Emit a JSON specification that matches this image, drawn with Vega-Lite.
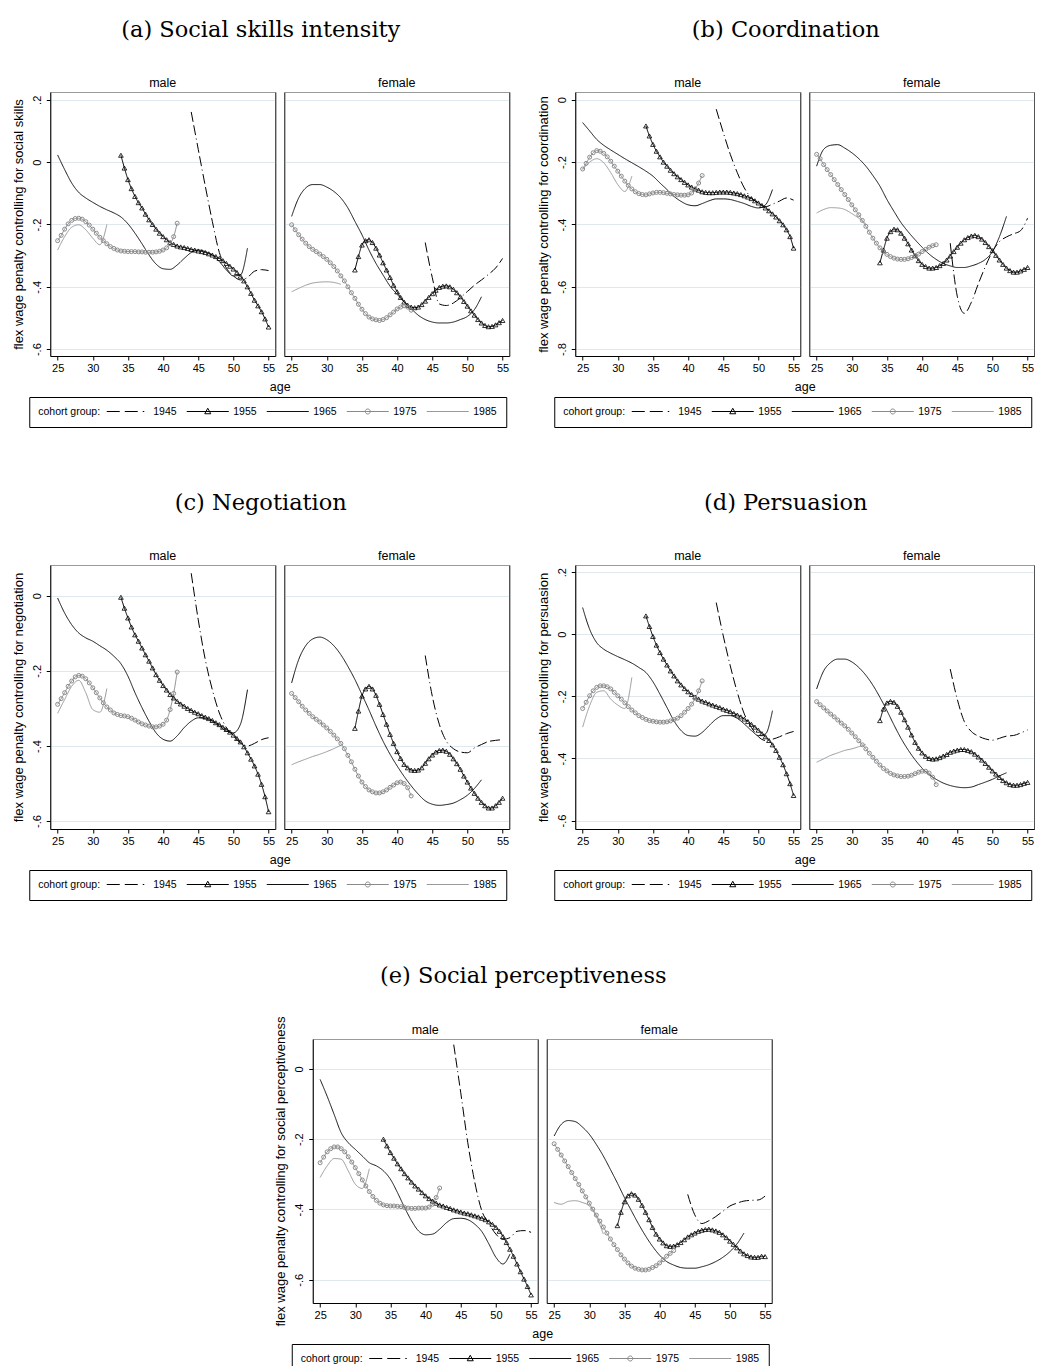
{
"$schema":"https://vega.github.io/schema/vega-lite/v6.json",
"background":"white",
"padding":{"left":11,"top":18,"right":0,"bottom":0},
"config":{
 "font":"Liberation Sans",
 "view":{"stroke":"#9a9a9a"},
 "axis":{"labelFont":"Liberation Sans","labelFontSize":11,"labelColor":"black","titleFont":"Liberation Sans","titleFontSize":13,"titleFontWeight":"normal","titleColor":"black","domainColor":"black","tickColor":"black","tickSize":4,"gridColor":"#dfe8ec","gridWidth":1,"labelPadding":2,"titlePadding":6},
 "legend":{"titleFont":"Liberation Sans","titleFontSize":10.5,"titleFontWeight":"normal","titleColor":"black","labelFont":"Liberation Sans","labelFontSize":10.5,"labelColor":"black","strokeColor":"black","fillColor":"white","padding":9,"cornerRadius":0,"direction":"horizontal","titleOrient":"left","titlePadding":6,"columnPadding":7,"symbolSize":100,"symbolStrokeWidth":1,"labelOffset":36}
},
"datasets":{
"am":[{"c":45,"x":44,"y":0.161},{"c":45,"x":45,"y":0.041},{"c":45,"x":46,"y":-0.077},{"c":45,"x":47,"y":-0.19},{"c":45,"x":48,"y":-0.29},{"c":45,"x":49,"y":-0.34},{"c":45,"x":50,"y":-0.365},{"c":45,"x":51,"y":-0.378},{"c":45,"x":52,"y":-0.37},{"c":45,"x":53,"y":-0.35},{"c":45,"x":54,"y":-0.345},{"c":45,"x":55,"y":-0.348},
{"c":55,"x":34,"y":0.022},{"c":55,"x":34.5,"y":-0.019},{"c":55,"x":35,"y":-0.056},{"c":55,"x":35.5,"y":-0.085},{"c":55,"x":36,"y":-0.11},{"c":55,"x":36.5,"y":-0.13},{"c":55,"x":37,"y":-0.147},{"c":55,"x":37.5,"y":-0.167},{"c":55,"x":38,"y":-0.185},{"c":55,"x":38.5,"y":-0.2},{"c":55,"x":39,"y":-0.215},{"c":55,"x":39.5,"y":-0.228},{"c":55,"x":40,"y":-0.239},{"c":55,"x":40.5,"y":-0.249},{"c":55,"x":41,"y":-0.258},{"c":55,"x":41.5,"y":-0.264},{"c":55,"x":42,"y":-0.269},{"c":55,"x":42.5,"y":-0.272},{"c":55,"x":43,"y":-0.274},{"c":55,"x":43.5,"y":-0.277},{"c":55,"x":44,"y":-0.28},{"c":55,"x":44.5,"y":-0.282},{"c":55,"x":45,"y":-0.285},{"c":55,"x":45.5,"y":-0.287},{"c":55,"x":46,"y":-0.29},{"c":55,"x":46.5,"y":-0.294},{"c":55,"x":47,"y":-0.298},{"c":55,"x":47.5,"y":-0.303},{"c":55,"x":48,"y":-0.309},{"c":55,"x":48.5,"y":-0.316},{"c":55,"x":49,"y":-0.325},{"c":55,"x":49.5,"y":-0.334},{"c":55,"x":50,"y":-0.343},{"c":55,"x":50.5,"y":-0.354},{"c":55,"x":51,"y":-0.366},{"c":55,"x":51.5,"y":-0.381},{"c":55,"x":52,"y":-0.4},{"c":55,"x":52.5,"y":-0.421},{"c":55,"x":53,"y":-0.443},{"c":55,"x":53.5,"y":-0.461},{"c":55,"x":54,"y":-0.48},{"c":55,"x":54.5,"y":-0.503},{"c":55,"x":55,"y":-0.529},
{"c":65,"x":25,"y":0.023},{"c":65,"x":26,"y":-0.024},{"c":65,"x":27,"y":-0.067},{"c":65,"x":28,"y":-0.097},{"c":65,"x":29,"y":-0.115},{"c":65,"x":30,"y":-0.129},{"c":65,"x":31,"y":-0.142},{"c":65,"x":32,"y":-0.153},{"c":65,"x":33,"y":-0.163},{"c":65,"x":34,"y":-0.176},{"c":65,"x":35,"y":-0.198},{"c":65,"x":36,"y":-0.228},{"c":65,"x":37,"y":-0.262},{"c":65,"x":38,"y":-0.298},{"c":65,"x":39,"y":-0.327},{"c":65,"x":40,"y":-0.342},{"c":65,"x":41,"y":-0.344},{"c":65,"x":42,"y":-0.33},{"c":65,"x":43,"y":-0.309},{"c":65,"x":44,"y":-0.29},{"c":65,"x":45,"y":-0.282},{"c":65,"x":46,"y":-0.287},{"c":65,"x":47,"y":-0.298},{"c":65,"x":48,"y":-0.319},{"c":65,"x":49,"y":-0.346},{"c":65,"x":50,"y":-0.365},{"c":65,"x":51,"y":-0.362},{"c":65,"x":52,"y":-0.276},
{"c":75,"x":25,"y":-0.252},{"c":75,"x":25.5,"y":-0.235},{"c":75,"x":26,"y":-0.215},{"c":75,"x":26.5,"y":-0.198},{"c":75,"x":27,"y":-0.187},{"c":75,"x":27.5,"y":-0.181},{"c":75,"x":28,"y":-0.18},{"c":75,"x":28.5,"y":-0.183},{"c":75,"x":29,"y":-0.191},{"c":75,"x":29.5,"y":-0.202},{"c":75,"x":30,"y":-0.215},{"c":75,"x":30.5,"y":-0.228},{"c":75,"x":31,"y":-0.241},{"c":75,"x":31.5,"y":-0.252},{"c":75,"x":32,"y":-0.262},{"c":75,"x":32.5,"y":-0.271},{"c":75,"x":33,"y":-0.277},{"c":75,"x":33.5,"y":-0.282},{"c":75,"x":34,"y":-0.285},{"c":75,"x":34.5,"y":-0.286},{"c":75,"x":35,"y":-0.287},{"c":75,"x":35.5,"y":-0.287},{"c":75,"x":36,"y":-0.287},{"c":75,"x":36.5,"y":-0.288},{"c":75,"x":37,"y":-0.288},{"c":75,"x":37.5,"y":-0.289},{"c":75,"x":38,"y":-0.289},{"c":75,"x":38.5,"y":-0.289},{"c":75,"x":39,"y":-0.288},{"c":75,"x":39.5,"y":-0.286},{"c":75,"x":40,"y":-0.282},{"c":75,"x":40.5,"y":-0.275},{"c":75,"x":41,"y":-0.262},{"c":75,"x":41.5,"y":-0.239},{"c":75,"x":42,"y":-0.196},
{"c":85,"x":25,"y":-0.282},{"c":85,"x":26,"y":-0.239},{"c":85,"x":27,"y":-0.209},{"c":85,"x":28,"y":-0.201},{"c":85,"x":29,"y":-0.217},{"c":85,"x":30,"y":-0.244},{"c":85,"x":31,"y":-0.265},{"c":85,"x":32,"y":-0.2}],
"af":[{"c":45,"x":44,"y":-0.258},{"c":45,"x":45,"y":-0.37},{"c":45,"x":46,"y":-0.455},{"c":45,"x":47,"y":-0.46},{"c":45,"x":48,"y":-0.452},{"c":45,"x":49,"y":-0.435},{"c":45,"x":50,"y":-0.415},{"c":45,"x":51,"y":-0.395},{"c":45,"x":52,"y":-0.378},{"c":45,"x":53,"y":-0.36},{"c":45,"x":54,"y":-0.34},{"c":45,"x":55,"y":-0.309},
{"c":55,"x":34,"y":-0.346},{"c":55,"x":34.5,"y":-0.303},{"c":55,"x":35,"y":-0.266},{"c":55,"x":35.5,"y":-0.252},{"c":55,"x":36,"y":-0.249},{"c":55,"x":36.5,"y":-0.258},{"c":55,"x":37,"y":-0.276},{"c":55,"x":37.5,"y":-0.298},{"c":55,"x":38,"y":-0.323},{"c":55,"x":38.5,"y":-0.346},{"c":55,"x":39,"y":-0.37},{"c":55,"x":39.5,"y":-0.395},{"c":55,"x":40,"y":-0.416},{"c":55,"x":40.5,"y":-0.434},{"c":55,"x":41,"y":-0.449},{"c":55,"x":41.5,"y":-0.459},{"c":55,"x":42,"y":-0.465},{"c":55,"x":42.5,"y":-0.467},{"c":55,"x":43,"y":-0.465},{"c":55,"x":43.5,"y":-0.457},{"c":55,"x":44,"y":-0.446},{"c":55,"x":44.5,"y":-0.434},{"c":55,"x":45,"y":-0.422},{"c":55,"x":45.5,"y":-0.411},{"c":55,"x":46,"y":-0.402},{"c":55,"x":46.5,"y":-0.398},{"c":55,"x":47,"y":-0.397},{"c":55,"x":47.5,"y":-0.4},{"c":55,"x":48,"y":-0.408},{"c":55,"x":48.5,"y":-0.419},{"c":55,"x":49,"y":-0.432},{"c":55,"x":49.5,"y":-0.447},{"c":55,"x":50,"y":-0.462},{"c":55,"x":50.5,"y":-0.477},{"c":55,"x":51,"y":-0.491},{"c":55,"x":51.5,"y":-0.505},{"c":55,"x":52,"y":-0.516},{"c":55,"x":52.5,"y":-0.524},{"c":55,"x":53,"y":-0.528},{"c":55,"x":53.5,"y":-0.527},{"c":55,"x":54,"y":-0.522},{"c":55,"x":54.5,"y":-0.515},{"c":55,"x":55,"y":-0.508},
{"c":65,"x":25,"y":-0.174},{"c":65,"x":26,"y":-0.115},{"c":65,"x":27,"y":-0.083},{"c":65,"x":28,"y":-0.072},{"c":65,"x":29,"y":-0.072},{"c":65,"x":30,"y":-0.08},{"c":65,"x":31,"y":-0.094},{"c":65,"x":32,"y":-0.115},{"c":65,"x":33,"y":-0.147},{"c":65,"x":34,"y":-0.19},{"c":65,"x":35,"y":-0.233},{"c":65,"x":36,"y":-0.282},{"c":65,"x":37,"y":-0.325},{"c":65,"x":38,"y":-0.362},{"c":65,"x":39,"y":-0.398},{"c":65,"x":40,"y":-0.424},{"c":65,"x":41,"y":-0.448},{"c":65,"x":42,"y":-0.47},{"c":65,"x":43,"y":-0.491},{"c":65,"x":44,"y":-0.505},{"c":65,"x":45,"y":-0.513},{"c":65,"x":46,"y":-0.516},{"c":65,"x":47,"y":-0.516},{"c":65,"x":48,"y":-0.513},{"c":65,"x":49,"y":-0.505},{"c":65,"x":50,"y":-0.495},{"c":65,"x":51,"y":-0.473},{"c":65,"x":52,"y":-0.432},
{"c":75,"x":25,"y":-0.201},{"c":75,"x":25.5,"y":-0.217},{"c":75,"x":26,"y":-0.233},{"c":75,"x":26.5,"y":-0.247},{"c":75,"x":27,"y":-0.26},{"c":75,"x":27.5,"y":-0.271},{"c":75,"x":28,"y":-0.28},{"c":75,"x":28.5,"y":-0.287},{"c":75,"x":29,"y":-0.295},{"c":75,"x":29.5,"y":-0.303},{"c":75,"x":30,"y":-0.312},{"c":75,"x":30.5,"y":-0.323},{"c":75,"x":31,"y":-0.335},{"c":75,"x":31.5,"y":-0.349},{"c":75,"x":32,"y":-0.365},{"c":75,"x":32.5,"y":-0.381},{"c":75,"x":33,"y":-0.4},{"c":75,"x":33.5,"y":-0.419},{"c":75,"x":34,"y":-0.437},{"c":75,"x":34.5,"y":-0.456},{"c":75,"x":35,"y":-0.472},{"c":75,"x":35.5,"y":-0.486},{"c":75,"x":36,"y":-0.497},{"c":75,"x":36.5,"y":-0.503},{"c":75,"x":37,"y":-0.506},{"c":75,"x":37.5,"y":-0.508},{"c":75,"x":38,"y":-0.505},{"c":75,"x":38.5,"y":-0.499},{"c":75,"x":39,"y":-0.49},{"c":75,"x":39.5,"y":-0.481},{"c":75,"x":40,"y":-0.471},{"c":75,"x":40.5,"y":-0.465},{"c":75,"x":41,"y":-0.461},{"c":75,"x":41.5,"y":-0.465},{"c":75,"x":42,"y":-0.475},
{"c":85,"x":25,"y":-0.416},{"c":85,"x":26,"y":-0.405},{"c":85,"x":27,"y":-0.395},{"c":85,"x":28,"y":-0.388},{"c":85,"x":29,"y":-0.385},{"c":85,"x":30,"y":-0.384},{"c":85,"x":31,"y":-0.386},{"c":85,"x":32,"y":-0.392}],
"bm":[{"c":45,"x":44,"y":-0.03},{"c":45,"x":45,"y":-0.105},{"c":45,"x":46,"y":-0.175},{"c":45,"x":47,"y":-0.234},{"c":45,"x":48,"y":-0.283},{"c":45,"x":49,"y":-0.315},{"c":45,"x":50,"y":-0.331},{"c":45,"x":51,"y":-0.343},{"c":45,"x":52,"y":-0.335},{"c":45,"x":53,"y":-0.325},{"c":45,"x":54,"y":-0.315},{"c":45,"x":55,"y":-0.322},
{"c":55,"x":34,"y":-0.084},{"c":55,"x":34.5,"y":-0.116},{"c":55,"x":35,"y":-0.143},{"c":55,"x":35.5,"y":-0.165},{"c":55,"x":36,"y":-0.183},{"c":55,"x":36.5,"y":-0.2},{"c":55,"x":37,"y":-0.213},{"c":55,"x":37.5,"y":-0.226},{"c":55,"x":38,"y":-0.237},{"c":55,"x":38.5,"y":-0.247},{"c":55,"x":39,"y":-0.256},{"c":55,"x":39.5,"y":-0.265},{"c":55,"x":40,"y":-0.273},{"c":55,"x":40.5,"y":-0.28},{"c":55,"x":41,"y":-0.286},{"c":55,"x":41.5,"y":-0.29},{"c":55,"x":42,"y":-0.295},{"c":55,"x":42.5,"y":-0.297},{"c":55,"x":43,"y":-0.298},{"c":55,"x":43.5,"y":-0.298},{"c":55,"x":44,"y":-0.297},{"c":55,"x":44.5,"y":-0.296},{"c":55,"x":45,"y":-0.296},{"c":55,"x":45.5,"y":-0.296},{"c":55,"x":46,"y":-0.297},{"c":55,"x":46.5,"y":-0.299},{"c":55,"x":47,"y":-0.301},{"c":55,"x":47.5,"y":-0.304},{"c":55,"x":48,"y":-0.308},{"c":55,"x":48.5,"y":-0.312},{"c":55,"x":49,"y":-0.317},{"c":55,"x":49.5,"y":-0.324},{"c":55,"x":50,"y":-0.331},{"c":55,"x":50.5,"y":-0.339},{"c":55,"x":51,"y":-0.347},{"c":55,"x":51.5,"y":-0.356},{"c":55,"x":52,"y":-0.366},{"c":55,"x":52.5,"y":-0.376},{"c":55,"x":53,"y":-0.388},{"c":55,"x":53.5,"y":-0.401},{"c":55,"x":54,"y":-0.417},{"c":55,"x":54.5,"y":-0.439},{"c":55,"x":55,"y":-0.476},
{"c":65,"x":25,"y":-0.073},{"c":65,"x":26,"y":-0.1},{"c":65,"x":27,"y":-0.127},{"c":65,"x":28,"y":-0.146},{"c":65,"x":29,"y":-0.161},{"c":65,"x":30,"y":-0.175},{"c":65,"x":31,"y":-0.189},{"c":65,"x":32,"y":-0.202},{"c":65,"x":33,"y":-0.215},{"c":65,"x":34,"y":-0.229},{"c":65,"x":35,"y":-0.245},{"c":65,"x":36,"y":-0.267},{"c":65,"x":37,"y":-0.288},{"c":65,"x":38,"y":-0.31},{"c":65,"x":39,"y":-0.326},{"c":65,"x":40,"y":-0.337},{"c":65,"x":41,"y":-0.34},{"c":65,"x":42,"y":-0.333},{"c":65,"x":43,"y":-0.324},{"c":65,"x":44,"y":-0.318},{"c":65,"x":45,"y":-0.318},{"c":65,"x":46,"y":-0.32},{"c":65,"x":47,"y":-0.326},{"c":65,"x":48,"y":-0.333},{"c":65,"x":49,"y":-0.342},{"c":65,"x":50,"y":-0.347},{"c":65,"x":51,"y":-0.337},{"c":65,"x":52,"y":-0.288},
{"c":75,"x":25,"y":-0.222},{"c":75,"x":25.5,"y":-0.204},{"c":75,"x":26,"y":-0.184},{"c":75,"x":26.5,"y":-0.17},{"c":75,"x":27,"y":-0.163},{"c":75,"x":27.5,"y":-0.165},{"c":75,"x":28,"y":-0.172},{"c":75,"x":28.5,"y":-0.183},{"c":75,"x":29,"y":-0.197},{"c":75,"x":29.5,"y":-0.213},{"c":75,"x":30,"y":-0.229},{"c":75,"x":30.5,"y":-0.245},{"c":75,"x":31,"y":-0.261},{"c":75,"x":31.5,"y":-0.275},{"c":75,"x":32,"y":-0.286},{"c":75,"x":32.5,"y":-0.295},{"c":75,"x":33,"y":-0.301},{"c":75,"x":33.5,"y":-0.304},{"c":75,"x":34,"y":-0.305},{"c":75,"x":34.5,"y":-0.302},{"c":75,"x":35,"y":-0.299},{"c":75,"x":35.5,"y":-0.297},{"c":75,"x":36,"y":-0.297},{"c":75,"x":36.5,"y":-0.298},{"c":75,"x":37,"y":-0.3},{"c":75,"x":37.5,"y":-0.302},{"c":75,"x":38,"y":-0.304},{"c":75,"x":38.5,"y":-0.305},{"c":75,"x":39,"y":-0.306},{"c":75,"x":39.5,"y":-0.306},{"c":75,"x":40,"y":-0.305},{"c":75,"x":40.5,"y":-0.299},{"c":75,"x":41,"y":-0.286},{"c":75,"x":41.5,"y":-0.267},{"c":75,"x":42,"y":-0.243},
{"c":85,"x":25,"y":-0.224},{"c":85,"x":26,"y":-0.2},{"c":85,"x":27,"y":-0.189},{"c":85,"x":28,"y":-0.202},{"c":85,"x":29,"y":-0.234},{"c":85,"x":30,"y":-0.272},{"c":85,"x":31,"y":-0.294},{"c":85,"x":32,"y":-0.245}],
"bf":[{"c":45,"x":44,"y":-0.46},{"c":45,"x":45,"y":-0.63},{"c":45,"x":46,"y":-0.685},{"c":45,"x":47,"y":-0.65},{"c":45,"x":48,"y":-0.59},{"c":45,"x":49,"y":-0.535},{"c":45,"x":50,"y":-0.487},{"c":45,"x":51,"y":-0.455},{"c":45,"x":52,"y":-0.44},{"c":45,"x":53,"y":-0.43},{"c":45,"x":54,"y":-0.42},{"c":45,"x":55,"y":-0.38},
{"c":55,"x":34,"y":-0.523},{"c":55,"x":34.5,"y":-0.482},{"c":55,"x":35,"y":-0.444},{"c":55,"x":35.5,"y":-0.423},{"c":55,"x":36,"y":-0.415},{"c":55,"x":36.5,"y":-0.417},{"c":55,"x":37,"y":-0.428},{"c":55,"x":37.5,"y":-0.444},{"c":55,"x":38,"y":-0.462},{"c":55,"x":38.5,"y":-0.482},{"c":55,"x":39,"y":-0.5},{"c":55,"x":39.5,"y":-0.516},{"c":55,"x":40,"y":-0.528},{"c":55,"x":40.5,"y":-0.535},{"c":55,"x":41,"y":-0.54},{"c":55,"x":41.5,"y":-0.54},{"c":55,"x":42,"y":-0.538},{"c":55,"x":42.5,"y":-0.532},{"c":55,"x":43,"y":-0.525},{"c":55,"x":43.5,"y":-0.514},{"c":55,"x":44,"y":-0.501},{"c":55,"x":44.5,"y":-0.487},{"c":55,"x":45,"y":-0.473},{"c":55,"x":45.5,"y":-0.46},{"c":55,"x":46,"y":-0.449},{"c":55,"x":46.5,"y":-0.442},{"c":55,"x":47,"y":-0.437},{"c":55,"x":47.5,"y":-0.435},{"c":55,"x":48,"y":-0.439},{"c":55,"x":48.5,"y":-0.447},{"c":55,"x":49,"y":-0.458},{"c":55,"x":49.5,"y":-0.471},{"c":55,"x":50,"y":-0.484},{"c":55,"x":50.5,"y":-0.499},{"c":55,"x":51,"y":-0.514},{"c":55,"x":51.5,"y":-0.528},{"c":55,"x":52,"y":-0.54},{"c":55,"x":52.5,"y":-0.548},{"c":55,"x":53,"y":-0.553},{"c":55,"x":53.5,"y":-0.553},{"c":55,"x":54,"y":-0.549},{"c":55,"x":54.5,"y":-0.544},{"c":55,"x":55,"y":-0.538},
{"c":65,"x":25,"y":-0.213},{"c":65,"x":26,"y":-0.159},{"c":65,"x":27,"y":-0.146},{"c":65,"x":28,"y":-0.144},{"c":65,"x":29,"y":-0.155},{"c":65,"x":30,"y":-0.17},{"c":65,"x":31,"y":-0.189},{"c":65,"x":32,"y":-0.213},{"c":65,"x":33,"y":-0.243},{"c":65,"x":34,"y":-0.277},{"c":65,"x":35,"y":-0.32},{"c":65,"x":36,"y":-0.358},{"c":65,"x":37,"y":-0.394},{"c":65,"x":38,"y":-0.423},{"c":65,"x":39,"y":-0.449},{"c":65,"x":40,"y":-0.473},{"c":65,"x":41,"y":-0.495},{"c":65,"x":42,"y":-0.512},{"c":65,"x":43,"y":-0.525},{"c":65,"x":44,"y":-0.533},{"c":65,"x":45,"y":-0.538},{"c":65,"x":46,"y":-0.538},{"c":65,"x":47,"y":-0.533},{"c":65,"x":48,"y":-0.525},{"c":65,"x":49,"y":-0.512},{"c":65,"x":50,"y":-0.487},{"c":65,"x":51,"y":-0.439},{"c":65,"x":52,"y":-0.374},
{"c":75,"x":25,"y":-0.175},{"c":75,"x":25.5,"y":-0.189},{"c":75,"x":26,"y":-0.208},{"c":75,"x":26.5,"y":-0.224},{"c":75,"x":27,"y":-0.24},{"c":75,"x":27.5,"y":-0.256},{"c":75,"x":28,"y":-0.272},{"c":75,"x":28.5,"y":-0.288},{"c":75,"x":29,"y":-0.304},{"c":75,"x":29.5,"y":-0.32},{"c":75,"x":30,"y":-0.337},{"c":75,"x":30.5,"y":-0.353},{"c":75,"x":31,"y":-0.369},{"c":75,"x":31.5,"y":-0.387},{"c":75,"x":32,"y":-0.406},{"c":75,"x":32.5,"y":-0.425},{"c":75,"x":33,"y":-0.444},{"c":75,"x":33.5,"y":-0.46},{"c":75,"x":34,"y":-0.475},{"c":75,"x":34.5,"y":-0.487},{"c":75,"x":35,"y":-0.496},{"c":75,"x":35.5,"y":-0.503},{"c":75,"x":36,"y":-0.508},{"c":75,"x":36.5,"y":-0.511},{"c":75,"x":37,"y":-0.512},{"c":75,"x":37.5,"y":-0.512},{"c":75,"x":38,"y":-0.51},{"c":75,"x":38.5,"y":-0.506},{"c":75,"x":39,"y":-0.501},{"c":75,"x":39.5,"y":-0.495},{"c":75,"x":40,"y":-0.487},{"c":75,"x":40.5,"y":-0.48},{"c":75,"x":41,"y":-0.473},{"c":75,"x":41.5,"y":-0.468},{"c":75,"x":42,"y":-0.465},
{"c":85,"x":25,"y":-0.363},{"c":85,"x":26,"y":-0.352},{"c":85,"x":27,"y":-0.346},{"c":85,"x":28,"y":-0.347},{"c":85,"x":29,"y":-0.352},{"c":85,"x":30,"y":-0.365},{"c":85,"x":31,"y":-0.38},{"c":85,"x":32,"y":-0.398}],
"cm":[{"c":45,"x":44,"y":0.06},{"c":45,"x":45,"y":-0.064},{"c":45,"x":46,"y":-0.17},{"c":45,"x":47,"y":-0.25},{"c":45,"x":48,"y":-0.312},{"c":45,"x":49,"y":-0.351},{"c":45,"x":50,"y":-0.373},{"c":45,"x":51,"y":-0.392},{"c":45,"x":52,"y":-0.4},{"c":45,"x":53,"y":-0.393},{"c":45,"x":54,"y":-0.383},{"c":45,"x":55,"y":-0.378},
{"c":55,"x":34,"y":-0.004},{"c":55,"x":34.5,"y":-0.033},{"c":55,"x":35,"y":-0.059},{"c":55,"x":35.5,"y":-0.083},{"c":55,"x":36,"y":-0.104},{"c":55,"x":36.5,"y":-0.121},{"c":55,"x":37,"y":-0.139},{"c":55,"x":37.5,"y":-0.157},{"c":55,"x":38,"y":-0.174},{"c":55,"x":38.5,"y":-0.192},{"c":55,"x":39,"y":-0.21},{"c":55,"x":39.5,"y":-0.225},{"c":55,"x":40,"y":-0.239},{"c":55,"x":40.5,"y":-0.251},{"c":55,"x":41,"y":-0.263},{"c":55,"x":41.5,"y":-0.272},{"c":55,"x":42,"y":-0.281},{"c":55,"x":42.5,"y":-0.288},{"c":55,"x":43,"y":-0.294},{"c":55,"x":43.5,"y":-0.3},{"c":55,"x":44,"y":-0.305},{"c":55,"x":44.5,"y":-0.31},{"c":55,"x":45,"y":-0.314},{"c":55,"x":45.5,"y":-0.319},{"c":55,"x":46,"y":-0.323},{"c":55,"x":46.5,"y":-0.327},{"c":55,"x":47,"y":-0.332},{"c":55,"x":47.5,"y":-0.338},{"c":55,"x":48,"y":-0.343},{"c":55,"x":48.5,"y":-0.35},{"c":55,"x":49,"y":-0.356},{"c":55,"x":49.5,"y":-0.363},{"c":55,"x":50,"y":-0.371},{"c":55,"x":50.5,"y":-0.38},{"c":55,"x":51,"y":-0.389},{"c":55,"x":51.5,"y":-0.402},{"c":55,"x":52,"y":-0.418},{"c":55,"x":52.5,"y":-0.435},{"c":55,"x":53,"y":-0.453},{"c":55,"x":53.5,"y":-0.475},{"c":55,"x":54,"y":-0.502},{"c":55,"x":54.5,"y":-0.535},{"c":55,"x":55,"y":-0.575},
{"c":65,"x":25,"y":-0.006},{"c":65,"x":26,"y":-0.046},{"c":65,"x":27,"y":-0.077},{"c":65,"x":28,"y":-0.099},{"c":65,"x":29,"y":-0.112},{"c":65,"x":30,"y":-0.121},{"c":65,"x":31,"y":-0.133},{"c":65,"x":32,"y":-0.145},{"c":65,"x":33,"y":-0.161},{"c":65,"x":34,"y":-0.181},{"c":65,"x":35,"y":-0.214},{"c":65,"x":36,"y":-0.258},{"c":65,"x":37,"y":-0.298},{"c":65,"x":38,"y":-0.334},{"c":65,"x":39,"y":-0.365},{"c":65,"x":40,"y":-0.382},{"c":65,"x":41,"y":-0.387},{"c":65,"x":42,"y":-0.373},{"c":65,"x":43,"y":-0.351},{"c":65,"x":44,"y":-0.334},{"c":65,"x":45,"y":-0.325},{"c":65,"x":46,"y":-0.327},{"c":65,"x":47,"y":-0.334},{"c":65,"x":48,"y":-0.347},{"c":65,"x":49,"y":-0.36},{"c":65,"x":50,"y":-0.365},{"c":65,"x":51,"y":-0.342},{"c":65,"x":52,"y":-0.25},
{"c":75,"x":25,"y":-0.289},{"c":75,"x":25.5,"y":-0.274},{"c":75,"x":26,"y":-0.258},{"c":75,"x":26.5,"y":-0.241},{"c":75,"x":27,"y":-0.227},{"c":75,"x":27.5,"y":-0.216},{"c":75,"x":28,"y":-0.212},{"c":75,"x":28.5,"y":-0.214},{"c":75,"x":29,"y":-0.221},{"c":75,"x":29.5,"y":-0.232},{"c":75,"x":30,"y":-0.245},{"c":75,"x":30.5,"y":-0.258},{"c":75,"x":31,"y":-0.272},{"c":75,"x":31.5,"y":-0.285},{"c":75,"x":32,"y":-0.296},{"c":75,"x":32.5,"y":-0.304},{"c":75,"x":33,"y":-0.312},{"c":75,"x":33.5,"y":-0.316},{"c":75,"x":34,"y":-0.319},{"c":75,"x":34.5,"y":-0.32},{"c":75,"x":35,"y":-0.322},{"c":75,"x":35.5,"y":-0.326},{"c":75,"x":36,"y":-0.331},{"c":75,"x":36.5,"y":-0.336},{"c":75,"x":37,"y":-0.341},{"c":75,"x":37.5,"y":-0.344},{"c":75,"x":38,"y":-0.347},{"c":75,"x":38.5,"y":-0.349},{"c":75,"x":39,"y":-0.349},{"c":75,"x":39.5,"y":-0.347},{"c":75,"x":40,"y":-0.342},{"c":75,"x":40.5,"y":-0.331},{"c":75,"x":41,"y":-0.303},{"c":75,"x":41.5,"y":-0.26},{"c":75,"x":42,"y":-0.203},
{"c":85,"x":25,"y":-0.313},{"c":85,"x":26,"y":-0.276},{"c":85,"x":27,"y":-0.241},{"c":85,"x":28,"y":-0.225},{"c":85,"x":29,"y":-0.258},{"c":85,"x":30,"y":-0.303},{"c":85,"x":31,"y":-0.31},{"c":85,"x":32,"y":-0.247}],
"cf":[{"c":45,"x":44,"y":-0.159},{"c":45,"x":45,"y":-0.267},{"c":45,"x":46,"y":-0.342},{"c":45,"x":47,"y":-0.387},{"c":45,"x":48,"y":-0.407},{"c":45,"x":49,"y":-0.416},{"c":45,"x":50,"y":-0.418},{"c":45,"x":51,"y":-0.405},{"c":45,"x":52,"y":-0.396},{"c":45,"x":53,"y":-0.388},{"c":45,"x":54,"y":-0.385},{"c":45,"x":55,"y":-0.383},
{"c":55,"x":34,"y":-0.353},{"c":55,"x":34.5,"y":-0.307},{"c":55,"x":35,"y":-0.267},{"c":55,"x":35.5,"y":-0.248},{"c":55,"x":36,"y":-0.241},{"c":55,"x":36.5,"y":-0.248},{"c":55,"x":37,"y":-0.265},{"c":55,"x":37.5,"y":-0.289},{"c":55,"x":38,"y":-0.316},{"c":55,"x":38.5,"y":-0.342},{"c":55,"x":39,"y":-0.369},{"c":55,"x":39.5,"y":-0.393},{"c":55,"x":40,"y":-0.415},{"c":55,"x":40.5,"y":-0.433},{"c":55,"x":41,"y":-0.449},{"c":55,"x":41.5,"y":-0.458},{"c":55,"x":42,"y":-0.464},{"c":55,"x":42.5,"y":-0.465},{"c":55,"x":43,"y":-0.464},{"c":55,"x":43.5,"y":-0.458},{"c":55,"x":44,"y":-0.446},{"c":55,"x":44.5,"y":-0.434},{"c":55,"x":45,"y":-0.424},{"c":55,"x":45.5,"y":-0.416},{"c":55,"x":46,"y":-0.412},{"c":55,"x":46.5,"y":-0.411},{"c":55,"x":47,"y":-0.414},{"c":55,"x":47.5,"y":-0.422},{"c":55,"x":48,"y":-0.434},{"c":55,"x":48.5,"y":-0.447},{"c":55,"x":49,"y":-0.462},{"c":55,"x":49.5,"y":-0.48},{"c":55,"x":50,"y":-0.496},{"c":55,"x":50.5,"y":-0.512},{"c":55,"x":51,"y":-0.526},{"c":55,"x":51.5,"y":-0.539},{"c":55,"x":52,"y":-0.55},{"c":55,"x":52.5,"y":-0.559},{"c":55,"x":53,"y":-0.565},{"c":55,"x":53.5,"y":-0.565},{"c":55,"x":54,"y":-0.559},{"c":55,"x":54.5,"y":-0.55},{"c":55,"x":55,"y":-0.539},
{"c":65,"x":25,"y":-0.232},{"c":65,"x":26,"y":-0.17},{"c":65,"x":27,"y":-0.133},{"c":65,"x":28,"y":-0.115},{"c":65,"x":29,"y":-0.11},{"c":65,"x":30,"y":-0.117},{"c":65,"x":31,"y":-0.133},{"c":65,"x":32,"y":-0.157},{"c":65,"x":33,"y":-0.188},{"c":65,"x":34,"y":-0.223},{"c":65,"x":35,"y":-0.263},{"c":65,"x":36,"y":-0.304},{"c":65,"x":37,"y":-0.347},{"c":65,"x":38,"y":-0.387},{"c":65,"x":39,"y":-0.422},{"c":65,"x":40,"y":-0.453},{"c":65,"x":41,"y":-0.481},{"c":65,"x":42,"y":-0.506},{"c":65,"x":43,"y":-0.528},{"c":65,"x":44,"y":-0.546},{"c":65,"x":45,"y":-0.555},{"c":65,"x":46,"y":-0.558},{"c":65,"x":47,"y":-0.556},{"c":65,"x":48,"y":-0.552},{"c":65,"x":49,"y":-0.543},{"c":65,"x":50,"y":-0.531},{"c":65,"x":51,"y":-0.513},{"c":65,"x":52,"y":-0.49},
{"c":75,"x":25,"y":-0.26},{"c":75,"x":25.5,"y":-0.271},{"c":75,"x":26,"y":-0.282},{"c":75,"x":26.5,"y":-0.294},{"c":75,"x":27,"y":-0.304},{"c":75,"x":27.5,"y":-0.313},{"c":75,"x":28,"y":-0.322},{"c":75,"x":28.5,"y":-0.329},{"c":75,"x":29,"y":-0.336},{"c":75,"x":29.5,"y":-0.344},{"c":75,"x":30,"y":-0.352},{"c":75,"x":30.5,"y":-0.361},{"c":75,"x":31,"y":-0.371},{"c":75,"x":31.5,"y":-0.381},{"c":75,"x":32,"y":-0.393},{"c":75,"x":32.5,"y":-0.407},{"c":75,"x":33,"y":-0.425},{"c":75,"x":33.5,"y":-0.442},{"c":75,"x":34,"y":-0.462},{"c":75,"x":34.5,"y":-0.48},{"c":75,"x":35,"y":-0.496},{"c":75,"x":35.5,"y":-0.508},{"c":75,"x":36,"y":-0.517},{"c":75,"x":36.5,"y":-0.522},{"c":75,"x":37,"y":-0.525},{"c":75,"x":37.5,"y":-0.525},{"c":75,"x":38,"y":-0.522},{"c":75,"x":38.5,"y":-0.517},{"c":75,"x":39,"y":-0.51},{"c":75,"x":39.5,"y":-0.504},{"c":75,"x":40,"y":-0.498},{"c":75,"x":40.5,"y":-0.496},{"c":75,"x":41,"y":-0.5},{"c":75,"x":41.5,"y":-0.511},{"c":75,"x":42,"y":-0.533},
{"c":85,"x":25,"y":-0.45},{"c":85,"x":26,"y":-0.442},{"c":85,"x":27,"y":-0.435},{"c":85,"x":28,"y":-0.428},{"c":85,"x":29,"y":-0.422},{"c":85,"x":30,"y":-0.415},{"c":85,"x":31,"y":-0.407},{"c":85,"x":32,"y":-0.398}],
"dm":[{"c":45,"x":44,"y":0.102},{"c":45,"x":45,"y":-0.005},{"c":45,"x":46,"y":-0.102},{"c":45,"x":47,"y":-0.187},{"c":45,"x":48,"y":-0.257},{"c":45,"x":49,"y":-0.3},{"c":45,"x":50,"y":-0.33},{"c":45,"x":51,"y":-0.342},{"c":45,"x":52,"y":-0.338},{"c":45,"x":53,"y":-0.33},{"c":45,"x":54,"y":-0.32},{"c":45,"x":55,"y":-0.313},
{"c":55,"x":34,"y":0.059},{"c":55,"x":34.5,"y":0.025},{"c":55,"x":35,"y":-0.007},{"c":55,"x":35.5,"y":-0.035},{"c":55,"x":36,"y":-0.059},{"c":55,"x":36.5,"y":-0.08},{"c":55,"x":37,"y":-0.099},{"c":55,"x":37.5,"y":-0.118},{"c":55,"x":38,"y":-0.134},{"c":55,"x":38.5,"y":-0.15},{"c":55,"x":39,"y":-0.163},{"c":55,"x":39.5,"y":-0.175},{"c":55,"x":40,"y":-0.185},{"c":55,"x":40.5,"y":-0.194},{"c":55,"x":41,"y":-0.202},{"c":55,"x":41.5,"y":-0.209},{"c":55,"x":42,"y":-0.215},{"c":55,"x":42.5,"y":-0.219},{"c":55,"x":43,"y":-0.224},{"c":55,"x":43.5,"y":-0.228},{"c":55,"x":44,"y":-0.232},{"c":55,"x":44.5,"y":-0.236},{"c":55,"x":45,"y":-0.241},{"c":55,"x":45.5,"y":-0.245},{"c":55,"x":46,"y":-0.249},{"c":55,"x":46.5,"y":-0.255},{"c":55,"x":47,"y":-0.26},{"c":55,"x":47.5,"y":-0.266},{"c":55,"x":48,"y":-0.273},{"c":55,"x":48.5,"y":-0.281},{"c":55,"x":49,"y":-0.29},{"c":55,"x":49.5,"y":-0.299},{"c":55,"x":50,"y":-0.309},{"c":55,"x":50.5,"y":-0.32},{"c":55,"x":51,"y":-0.33},{"c":55,"x":51.5,"y":-0.342},{"c":55,"x":52,"y":-0.356},{"c":55,"x":52.5,"y":-0.374},{"c":55,"x":53,"y":-0.396},{"c":55,"x":53.5,"y":-0.42},{"c":55,"x":54,"y":-0.449},{"c":55,"x":54.5,"y":-0.481},{"c":55,"x":55,"y":-0.519},
{"c":65,"x":25,"y":0.086},{"c":65,"x":26,"y":0.016},{"c":65,"x":27,"y":-0.027},{"c":65,"x":28,"y":-0.048},{"c":65,"x":29,"y":-0.061},{"c":65,"x":30,"y":-0.072},{"c":65,"x":31,"y":-0.082},{"c":65,"x":32,"y":-0.093},{"c":65,"x":33,"y":-0.107},{"c":65,"x":34,"y":-0.123},{"c":65,"x":35,"y":-0.153},{"c":65,"x":36,"y":-0.193},{"c":65,"x":37,"y":-0.236},{"c":65,"x":38,"y":-0.279},{"c":65,"x":39,"y":-0.31},{"c":65,"x":40,"y":-0.326},{"c":65,"x":41,"y":-0.328},{"c":65,"x":42,"y":-0.316},{"c":65,"x":43,"y":-0.294},{"c":65,"x":44,"y":-0.273},{"c":65,"x":45,"y":-0.262},{"c":65,"x":46,"y":-0.262},{"c":65,"x":47,"y":-0.271},{"c":65,"x":48,"y":-0.289},{"c":65,"x":49,"y":-0.31},{"c":65,"x":50,"y":-0.326},{"c":65,"x":51,"y":-0.321},{"c":65,"x":52,"y":-0.246},
{"c":75,"x":25,"y":-0.239},{"c":75,"x":25.5,"y":-0.219},{"c":75,"x":26,"y":-0.198},{"c":75,"x":26.5,"y":-0.182},{"c":75,"x":27,"y":-0.171},{"c":75,"x":27.5,"y":-0.166},{"c":75,"x":28,"y":-0.166},{"c":75,"x":28.5,"y":-0.169},{"c":75,"x":29,"y":-0.176},{"c":75,"x":29.5,"y":-0.187},{"c":75,"x":30,"y":-0.198},{"c":75,"x":30.5,"y":-0.209},{"c":75,"x":31,"y":-0.221},{"c":75,"x":31.5,"y":-0.233},{"c":75,"x":32,"y":-0.244},{"c":75,"x":32.5,"y":-0.253},{"c":75,"x":33,"y":-0.262},{"c":75,"x":33.5,"y":-0.268},{"c":75,"x":34,"y":-0.274},{"c":75,"x":34.5,"y":-0.278},{"c":75,"x":35,"y":-0.28},{"c":75,"x":35.5,"y":-0.282},{"c":75,"x":36,"y":-0.283},{"c":75,"x":36.5,"y":-0.283},{"c":75,"x":37,"y":-0.282},{"c":75,"x":37.5,"y":-0.279},{"c":75,"x":38,"y":-0.275},{"c":75,"x":38.5,"y":-0.27},{"c":75,"x":39,"y":-0.262},{"c":75,"x":39.5,"y":-0.251},{"c":75,"x":40,"y":-0.239},{"c":75,"x":40.5,"y":-0.225},{"c":75,"x":41,"y":-0.206},{"c":75,"x":41.5,"y":-0.182},{"c":75,"x":42,"y":-0.15},
{"c":85,"x":25,"y":-0.299},{"c":85,"x":26,"y":-0.23},{"c":85,"x":27,"y":-0.187},{"c":85,"x":28,"y":-0.182},{"c":85,"x":29,"y":-0.209},{"c":85,"x":30,"y":-0.228},{"c":85,"x":31,"y":-0.239},{"c":85,"x":32,"y":-0.139}],
"df":[{"c":45,"x":44,"y":-0.112},{"c":45,"x":45,"y":-0.209},{"c":45,"x":46,"y":-0.281},{"c":45,"x":47,"y":-0.313},{"c":45,"x":48,"y":-0.328},{"c":45,"x":49,"y":-0.337},{"c":45,"x":50,"y":-0.341},{"c":45,"x":51,"y":-0.335},{"c":45,"x":52,"y":-0.328},{"c":45,"x":53,"y":-0.326},{"c":45,"x":54,"y":-0.318},{"c":45,"x":55,"y":-0.308},
{"c":55,"x":34,"y":-0.278},{"c":55,"x":34.5,"y":-0.241},{"c":55,"x":35,"y":-0.221},{"c":55,"x":35.5,"y":-0.216},{"c":55,"x":36,"y":-0.219},{"c":55,"x":36.5,"y":-0.232},{"c":55,"x":37,"y":-0.251},{"c":55,"x":37.5,"y":-0.275},{"c":55,"x":38,"y":-0.299},{"c":55,"x":38.5,"y":-0.324},{"c":55,"x":39,"y":-0.348},{"c":55,"x":39.5,"y":-0.367},{"c":55,"x":40,"y":-0.382},{"c":55,"x":40.5,"y":-0.393},{"c":55,"x":41,"y":-0.4},{"c":55,"x":41.5,"y":-0.402},{"c":55,"x":42,"y":-0.401},{"c":55,"x":42.5,"y":-0.397},{"c":55,"x":43,"y":-0.392},{"c":55,"x":43.5,"y":-0.387},{"c":55,"x":44,"y":-0.38},{"c":55,"x":44.5,"y":-0.376},{"c":55,"x":45,"y":-0.373},{"c":55,"x":45.5,"y":-0.371},{"c":55,"x":46,"y":-0.371},{"c":55,"x":46.5,"y":-0.374},{"c":55,"x":47,"y":-0.378},{"c":55,"x":47.5,"y":-0.386},{"c":55,"x":48,"y":-0.395},{"c":55,"x":48.5,"y":-0.405},{"c":55,"x":49,"y":-0.416},{"c":55,"x":49.5,"y":-0.428},{"c":55,"x":50,"y":-0.44},{"c":55,"x":50.5,"y":-0.45},{"c":55,"x":51,"y":-0.461},{"c":55,"x":51.5,"y":-0.471},{"c":55,"x":52,"y":-0.478},{"c":55,"x":52.5,"y":-0.484},{"c":55,"x":53,"y":-0.486},{"c":55,"x":53.5,"y":-0.486},{"c":55,"x":54,"y":-0.484},{"c":55,"x":54.5,"y":-0.48},{"c":55,"x":55,"y":-0.477},
{"c":65,"x":25,"y":-0.176},{"c":65,"x":26,"y":-0.118},{"c":65,"x":27,"y":-0.091},{"c":65,"x":28,"y":-0.08},{"c":65,"x":29,"y":-0.08},{"c":65,"x":30,"y":-0.089},{"c":65,"x":31,"y":-0.107},{"c":65,"x":32,"y":-0.132},{"c":65,"x":33,"y":-0.164},{"c":65,"x":34,"y":-0.203},{"c":65,"x":35,"y":-0.246},{"c":65,"x":36,"y":-0.292},{"c":65,"x":37,"y":-0.335},{"c":65,"x":38,"y":-0.372},{"c":65,"x":39,"y":-0.404},{"c":65,"x":40,"y":-0.431},{"c":65,"x":41,"y":-0.452},{"c":65,"x":42,"y":-0.467},{"c":65,"x":43,"y":-0.479},{"c":65,"x":44,"y":-0.487},{"c":65,"x":45,"y":-0.492},{"c":65,"x":46,"y":-0.494},{"c":65,"x":47,"y":-0.492},{"c":65,"x":48,"y":-0.484},{"c":65,"x":49,"y":-0.476},{"c":65,"x":50,"y":-0.467},{"c":65,"x":51,"y":-0.456},{"c":65,"x":52,"y":-0.446},
{"c":75,"x":25,"y":-0.217},{"c":75,"x":25.5,"y":-0.227},{"c":75,"x":26,"y":-0.237},{"c":75,"x":26.5,"y":-0.247},{"c":75,"x":27,"y":-0.257},{"c":75,"x":27.5,"y":-0.266},{"c":75,"x":28,"y":-0.276},{"c":75,"x":28.5,"y":-0.286},{"c":75,"x":29,"y":-0.295},{"c":75,"x":29.5,"y":-0.306},{"c":75,"x":30,"y":-0.318},{"c":75,"x":30.5,"y":-0.33},{"c":75,"x":31,"y":-0.343},{"c":75,"x":31.5,"y":-0.356},{"c":75,"x":32,"y":-0.369},{"c":75,"x":32.5,"y":-0.383},{"c":75,"x":33,"y":-0.396},{"c":75,"x":33.5,"y":-0.409},{"c":75,"x":34,"y":-0.421},{"c":75,"x":34.5,"y":-0.432},{"c":75,"x":35,"y":-0.44},{"c":75,"x":35.5,"y":-0.448},{"c":75,"x":36,"y":-0.453},{"c":75,"x":36.5,"y":-0.456},{"c":75,"x":37,"y":-0.458},{"c":75,"x":37.5,"y":-0.458},{"c":75,"x":38,"y":-0.457},{"c":75,"x":38.5,"y":-0.454},{"c":75,"x":39,"y":-0.449},{"c":75,"x":39.5,"y":-0.444},{"c":75,"x":40,"y":-0.441},{"c":75,"x":40.5,"y":-0.441},{"c":75,"x":41,"y":-0.447},{"c":75,"x":41.5,"y":-0.46},{"c":75,"x":42,"y":-0.484},
{"c":85,"x":25,"y":-0.412},{"c":85,"x":26,"y":-0.401},{"c":85,"x":27,"y":-0.39},{"c":85,"x":28,"y":-0.382},{"c":85,"x":29,"y":-0.374},{"c":85,"x":30,"y":-0.369},{"c":85,"x":31,"y":-0.362},{"c":85,"x":32,"y":-0.355}],
"em":[{"c":45,"x":44,"y":0.069},{"c":45,"x":45,"y":-0.068},{"c":45,"x":46,"y":-0.21},{"c":45,"x":47,"y":-0.323},{"c":45,"x":48,"y":-0.404},{"c":45,"x":49,"y":-0.44},{"c":45,"x":50,"y":-0.47},{"c":45,"x":51,"y":-0.485},{"c":45,"x":52,"y":-0.48},{"c":45,"x":53,"y":-0.462},{"c":45,"x":54,"y":-0.46},{"c":45,"x":55,"y":-0.465},
{"c":55,"x":34,"y":-0.2},{"c":55,"x":34.5,"y":-0.219},{"c":55,"x":35,"y":-0.238},{"c":55,"x":35.5,"y":-0.254},{"c":55,"x":36,"y":-0.27},{"c":55,"x":36.5,"y":-0.284},{"c":55,"x":37,"y":-0.298},{"c":55,"x":37.5,"y":-0.31},{"c":55,"x":38,"y":-0.322},{"c":55,"x":38.5,"y":-0.333},{"c":55,"x":39,"y":-0.342},{"c":55,"x":39.5,"y":-0.352},{"c":55,"x":40,"y":-0.361},{"c":55,"x":40.5,"y":-0.369},{"c":55,"x":41,"y":-0.376},{"c":55,"x":41.5,"y":-0.382},{"c":55,"x":42,"y":-0.387},{"c":55,"x":42.5,"y":-0.39},{"c":55,"x":43,"y":-0.394},{"c":55,"x":43.5,"y":-0.397},{"c":55,"x":44,"y":-0.401},{"c":55,"x":44.5,"y":-0.404},{"c":55,"x":45,"y":-0.407},{"c":55,"x":45.5,"y":-0.41},{"c":55,"x":46,"y":-0.412},{"c":55,"x":46.5,"y":-0.415},{"c":55,"x":47,"y":-0.418},{"c":55,"x":47.5,"y":-0.421},{"c":55,"x":48,"y":-0.425},{"c":55,"x":48.5,"y":-0.429},{"c":55,"x":49,"y":-0.435},{"c":55,"x":49.5,"y":-0.442},{"c":55,"x":50,"y":-0.451},{"c":55,"x":50.5,"y":-0.462},{"c":55,"x":51,"y":-0.477},{"c":55,"x":51.5,"y":-0.494},{"c":55,"x":52,"y":-0.513},{"c":55,"x":52.5,"y":-0.533},{"c":55,"x":53,"y":-0.555},{"c":55,"x":53.5,"y":-0.577},{"c":55,"x":54,"y":-0.598},{"c":55,"x":54.5,"y":-0.619},{"c":55,"x":55,"y":-0.643},
{"c":65,"x":25,"y":-0.03},{"c":65,"x":26,"y":-0.078},{"c":65,"x":27,"y":-0.13},{"c":65,"x":28,"y":-0.182},{"c":65,"x":29,"y":-0.21},{"c":65,"x":30,"y":-0.229},{"c":65,"x":31,"y":-0.248},{"c":65,"x":32,"y":-0.267},{"c":65,"x":33,"y":-0.276},{"c":65,"x":34,"y":-0.29},{"c":65,"x":35,"y":-0.314},{"c":65,"x":36,"y":-0.352},{"c":65,"x":37,"y":-0.394},{"c":65,"x":38,"y":-0.432},{"c":65,"x":39,"y":-0.461},{"c":65,"x":40,"y":-0.472},{"c":65,"x":41,"y":-0.47},{"c":65,"x":42,"y":-0.456},{"c":65,"x":43,"y":-0.437},{"c":65,"x":44,"y":-0.426},{"c":65,"x":45,"y":-0.425},{"c":65,"x":46,"y":-0.429},{"c":65,"x":47,"y":-0.442},{"c":65,"x":48,"y":-0.463},{"c":65,"x":49,"y":-0.498},{"c":65,"x":50,"y":-0.536},{"c":65,"x":51,"y":-0.555},{"c":65,"x":52,"y":-0.527},
{"c":75,"x":25,"y":-0.267},{"c":75,"x":25.5,"y":-0.251},{"c":75,"x":26,"y":-0.236},{"c":75,"x":26.5,"y":-0.227},{"c":75,"x":27,"y":-0.222},{"c":75,"x":27.5,"y":-0.222},{"c":75,"x":28,"y":-0.227},{"c":75,"x":28.5,"y":-0.236},{"c":75,"x":29,"y":-0.25},{"c":75,"x":29.5,"y":-0.265},{"c":75,"x":30,"y":-0.281},{"c":75,"x":30.5,"y":-0.298},{"c":75,"x":31,"y":-0.316},{"c":75,"x":31.5,"y":-0.333},{"c":75,"x":32,"y":-0.349},{"c":75,"x":32.5,"y":-0.363},{"c":75,"x":33,"y":-0.374},{"c":75,"x":33.5,"y":-0.382},{"c":75,"x":34,"y":-0.387},{"c":75,"x":34.5,"y":-0.389},{"c":75,"x":35,"y":-0.39},{"c":75,"x":35.5,"y":-0.39},{"c":75,"x":36,"y":-0.391},{"c":75,"x":36.5,"y":-0.392},{"c":75,"x":37,"y":-0.394},{"c":75,"x":37.5,"y":-0.396},{"c":75,"x":38,"y":-0.397},{"c":75,"x":38.5,"y":-0.397},{"c":75,"x":39,"y":-0.396},{"c":75,"x":39.5,"y":-0.396},{"c":75,"x":40,"y":-0.396},{"c":75,"x":40.5,"y":-0.393},{"c":75,"x":41,"y":-0.385},{"c":75,"x":41.5,"y":-0.366},{"c":75,"x":42,"y":-0.339},
{"c":85,"x":25,"y":-0.309},{"c":85,"x":26,"y":-0.276},{"c":85,"x":27,"y":-0.255},{"c":85,"x":28,"y":-0.257},{"c":85,"x":29,"y":-0.29},{"c":85,"x":30,"y":-0.328},{"c":85,"x":31,"y":-0.34},{"c":85,"x":32,"y":-0.284}],
"ef":[{"c":45,"x":44,"y":-0.357},{"c":45,"x":45,"y":-0.415},{"c":45,"x":46,"y":-0.44},{"c":45,"x":47,"y":-0.432},{"c":45,"x":48,"y":-0.42},{"c":45,"x":49,"y":-0.405},{"c":45,"x":50,"y":-0.39},{"c":45,"x":51,"y":-0.382},{"c":45,"x":52,"y":-0.376},{"c":45,"x":53,"y":-0.374},{"c":45,"x":54,"y":-0.373},{"c":45,"x":55,"y":-0.362},
{"c":55,"x":34,"y":-0.446},{"c":55,"x":34.5,"y":-0.408},{"c":55,"x":35,"y":-0.378},{"c":55,"x":35.5,"y":-0.361},{"c":55,"x":36,"y":-0.355},{"c":55,"x":36.5,"y":-0.359},{"c":55,"x":37,"y":-0.371},{"c":55,"x":37.5,"y":-0.388},{"c":55,"x":38,"y":-0.408},{"c":55,"x":38.5,"y":-0.429},{"c":55,"x":39,"y":-0.451},{"c":55,"x":39.5,"y":-0.47},{"c":55,"x":40,"y":-0.484},{"c":55,"x":40.5,"y":-0.495},{"c":55,"x":41,"y":-0.503},{"c":55,"x":41.5,"y":-0.505},{"c":55,"x":42,"y":-0.504},{"c":55,"x":42.5,"y":-0.5},{"c":55,"x":43,"y":-0.494},{"c":55,"x":43.5,"y":-0.486},{"c":55,"x":44,"y":-0.478},{"c":55,"x":44.5,"y":-0.472},{"c":55,"x":45,"y":-0.467},{"c":55,"x":45.5,"y":-0.462},{"c":55,"x":46,"y":-0.459},{"c":55,"x":46.5,"y":-0.457},{"c":55,"x":47,"y":-0.456},{"c":55,"x":47.5,"y":-0.458},{"c":55,"x":48,"y":-0.461},{"c":55,"x":48.5,"y":-0.465},{"c":55,"x":49,"y":-0.472},{"c":55,"x":49.5,"y":-0.48},{"c":55,"x":50,"y":-0.49},{"c":55,"x":50.5,"y":-0.499},{"c":55,"x":51,"y":-0.509},{"c":55,"x":51.5,"y":-0.518},{"c":55,"x":52,"y":-0.526},{"c":55,"x":52.5,"y":-0.531},{"c":55,"x":53,"y":-0.535},{"c":55,"x":53.5,"y":-0.536},{"c":55,"x":54,"y":-0.536},{"c":55,"x":54.5,"y":-0.533},{"c":55,"x":55,"y":-0.534},
{"c":65,"x":25,"y":-0.191},{"c":65,"x":26,"y":-0.158},{"c":65,"x":27,"y":-0.147},{"c":65,"x":28,"y":-0.15},{"c":65,"x":29,"y":-0.165},{"c":65,"x":30,"y":-0.186},{"c":65,"x":31,"y":-0.215},{"c":65,"x":32,"y":-0.248},{"c":65,"x":33,"y":-0.286},{"c":65,"x":34,"y":-0.325},{"c":65,"x":35,"y":-0.366},{"c":65,"x":36,"y":-0.404},{"c":65,"x":37,"y":-0.441},{"c":65,"x":38,"y":-0.475},{"c":65,"x":39,"y":-0.505},{"c":65,"x":40,"y":-0.53},{"c":65,"x":41,"y":-0.548},{"c":65,"x":42,"y":-0.558},{"c":65,"x":43,"y":-0.565},{"c":65,"x":44,"y":-0.567},{"c":65,"x":45,"y":-0.567},{"c":65,"x":46,"y":-0.563},{"c":65,"x":47,"y":-0.557},{"c":65,"x":48,"y":-0.548},{"c":65,"x":49,"y":-0.536},{"c":65,"x":50,"y":-0.52},{"c":65,"x":51,"y":-0.498},{"c":65,"x":52,"y":-0.467},
{"c":75,"x":25,"y":-0.213},{"c":75,"x":25.5,"y":-0.229},{"c":75,"x":26,"y":-0.245},{"c":75,"x":26.5,"y":-0.262},{"c":75,"x":27,"y":-0.278},{"c":75,"x":27.5,"y":-0.295},{"c":75,"x":28,"y":-0.312},{"c":75,"x":28.5,"y":-0.329},{"c":75,"x":29,"y":-0.347},{"c":75,"x":29.5,"y":-0.364},{"c":75,"x":30,"y":-0.382},{"c":75,"x":30.5,"y":-0.399},{"c":75,"x":31,"y":-0.416},{"c":75,"x":31.5,"y":-0.433},{"c":75,"x":32,"y":-0.45},{"c":75,"x":32.5,"y":-0.467},{"c":75,"x":33,"y":-0.484},{"c":75,"x":33.5,"y":-0.5},{"c":75,"x":34,"y":-0.514},{"c":75,"x":34.5,"y":-0.529},{"c":75,"x":35,"y":-0.541},{"c":75,"x":35.5,"y":-0.552},{"c":75,"x":36,"y":-0.561},{"c":75,"x":36.5,"y":-0.567},{"c":75,"x":37,"y":-0.57},{"c":75,"x":37.5,"y":-0.572},{"c":75,"x":38,"y":-0.572},{"c":75,"x":38.5,"y":-0.57},{"c":75,"x":39,"y":-0.565},{"c":75,"x":39.5,"y":-0.56},{"c":75,"x":40,"y":-0.552},{"c":75,"x":40.5,"y":-0.543},{"c":75,"x":41,"y":-0.533},{"c":75,"x":41.5,"y":-0.525},{"c":75,"x":42,"y":-0.517},
{"c":85,"x":25,"y":-0.38},{"c":85,"x":26,"y":-0.385},{"c":85,"x":27,"y":-0.377},{"c":85,"x":28,"y":-0.375},{"c":85,"x":29,"y":-0.38},{"c":85,"x":30,"y":-0.39},{"c":85,"x":31,"y":-0.42},{"c":85,"x":32,"y":-0.47}]
},
"vconcat":[
{"hconcat":[
 {"title":{"text":"(a) Social skills intensity","font":"DejaVu Serif","fontSize":22.5,"fontWeight":"normal","color":"black","anchor":"middle","frame":"bounds","offset":17,"baseline":"alphabetic"},
  "bounds":"flush","spacing":9,
  "hconcat":[
   {"width":225,"height":264,"title":{"text":"male","font":"Liberation Sans","fontSize":12.5,"fontWeight":"normal","color":"black","offset":-10,"baseline":"bottom","anchor":"middle"},
    "data":{"name":"am"},
    "encoding":{"x":{"field":"x","type":"quantitative","scale":{"domain":[23.95,55.95],"nice":false,"zero":false},"axis":{"values":[25,30,35,40,45,50,55],"grid":false,"title":"age","titleX":229.5,"titleY":30,"titleBaseline":"middle","titleAlign":"center","titleFontSize":12.5}}},
    "layer":[
     {"mark":{"type":"line","interpolate":"monotone","strokeWidth":1},"encoding":{"y":{"field":"y","type":"quantitative","scale":{"domain":[-0.622,0.225],"nice":false,"zero":false},"axis":{"orient":"left","values":[-0.6,-0.4,-0.2,0,0.2],"title":"flex wage penalty controlling for social skills","grid":true,"labelAngle":-90,"labelAlign":"center","labelBaseline":"bottom","labelPadding":4,"labelExpr":"datum.value == 0 ? '0' : (datum.value < 0 ? '-' : '') + '.' + round(abs(datum.value) * 10)"}},"stroke":{"field":"c","type":"nominal","scale":{"domain":[45,55,65,75,85],"range":["#000000","#000000","#111111","#8a8a8a","#9a9a9a"]},"legend":null},"strokeDash":{"field":"c","type":"nominal","scale":{"domain":[45,55,65,75,85],"range":[[10,3.5,10,3.5,1,3.5],[1,0],[1,0],[1,0],[1,0]]},"legend":null}}},
     {"transform":[{"filter":"datum.c == 55"}],"mark":{"type":"point","shape":"triangle-up","size":22,"filled":false,"stroke":"black","strokeWidth":0.8,"opacity":1},"encoding":{"y":{"field":"y","type":"quantitative","scale":{"domain":[-0.622,0.225],"nice":false,"zero":false},"axis":null}}},
     {"transform":[{"filter":"datum.c == 75"}],"mark":{"type":"point","shape":"circle","size":16,"filled":false,"stroke":"#8a8a8a","strokeWidth":1,"opacity":1},"encoding":{"y":{"field":"y","type":"quantitative","scale":{"domain":[-0.622,0.225],"nice":false,"zero":false},"axis":null}}},
     {"transform":[{"filter":"false"}],"mark":{"type":"point","filled":false,"size":100,"strokeWidth":1,"opacity":1},"encoding":{"y":{"field":"y","type":"quantitative","scale":{"domain":[-0.622,0.225],"nice":false,"zero":false},"axis":{"orient":"right","labels":false,"ticks":false,"grid":false,"title":null,"domainColor":"#333333"}},"color":{"field":"c","type":"nominal","scale":{"domain":[45,55,65,75,85],"range":["#000000","#000000","#111111","#8a8a8a","#9a9a9a"]},"legend":{"title":"cohort group:","orient":"none","legendX":-21,"legendY":305,"labelExpr":"'19' + datum.label"}},"shape":{"field":"c","type":"nominal","scale":{"domain":[45,55,65,75,85],"range":["M-1,0H1.6M2.6,0H5.2M6.2,0H6.5","M-1,0H7.4M3.2,-0.65L3.8,0.45L2.6,0.45Z","M-1,0H7.4","M-1,0H7.4M3.7,0A0.5,0.5,0,1,1,2.7,0A0.5,0.5,0,1,1,3.7,0","M-1,0H7.4"]},"legend":{"title":"cohort group:","orient":"none","legendX":-21,"legendY":305,"labelExpr":"'19' + datum.label"}}}}
    ]},
   {"width":225,"height":264,"title":{"text":"female","font":"Liberation Sans","fontSize":12.5,"fontWeight":"normal","color":"black","offset":-10,"baseline":"bottom","anchor":"middle"},
    "data":{"name":"af"},
    "encoding":{"x":{"field":"x","type":"quantitative","scale":{"domain":[23.95,55.95],"nice":false,"zero":false},"axis":{"values":[25,30,35,40,45,50,55],"grid":false,"title":null}}},
    "layer":[
     {"mark":{"type":"line","interpolate":"monotone","strokeWidth":1},"encoding":{"y":{"field":"y","type":"quantitative","scale":{"domain":[-0.622,0.225],"nice":false,"zero":false},"axis":{"orient":"left","values":[-0.6,-0.4,-0.2,0,0.2],"title":null,"grid":true,"labels":false,"ticks":false,"domainColor":"#333333"}},"stroke":{"field":"c","type":"nominal","scale":{"domain":[45,55,65,75,85],"range":["#000000","#000000","#111111","#8a8a8a","#9a9a9a"]},"legend":null},"strokeDash":{"field":"c","type":"nominal","scale":{"domain":[45,55,65,75,85],"range":[[10,3.5,10,3.5,1,3.5],[1,0],[1,0],[1,0],[1,0]]},"legend":null}}},
     {"transform":[{"filter":"datum.c == 55"}],"mark":{"type":"point","shape":"triangle-up","size":22,"filled":false,"stroke":"black","strokeWidth":0.8,"opacity":1},"encoding":{"y":{"field":"y","type":"quantitative","scale":{"domain":[-0.622,0.225],"nice":false,"zero":false},"axis":null}}},
     {"transform":[{"filter":"datum.c == 75"}],"mark":{"type":"point","shape":"circle","size":16,"filled":false,"stroke":"#8a8a8a","strokeWidth":1,"opacity":1},"encoding":{"y":{"field":"y","type":"quantitative","scale":{"domain":[-0.622,0.225],"nice":false,"zero":false},"axis":null}}},
     {"transform":[{"filter":"false"}],"mark":{"type":"point","filled":false,"size":100,"strokeWidth":1,"opacity":1},"encoding":{"y":{"field":"y","type":"quantitative","scale":{"domain":[-0.622,0.225],"nice":false,"zero":false},"axis":{"orient":"right","labels":false,"ticks":false,"grid":false,"title":null,"domainColor":"#333333"}},"color":{"field":"c","type":"nominal","scale":{"domain":[45,55,65,75,85],"range":["#000000","#000000","#111111","#8a8a8a","#9a9a9a"]},"legend":{"title":"cohort group:","orient":"none","legendX":-21,"legendY":305,"labelExpr":"'19' + datum.label"}},"shape":{"field":"c","type":"nominal","scale":{"domain":[45,55,65,75,85],"range":["M-1,0H1.6M2.6,0H5.2M6.2,0H6.5","M-1,0H7.4M3.2,-0.65L3.8,0.45L2.6,0.45Z","M-1,0H7.4","M-1,0H7.4M3.7,0A0.5,0.5,0,1,1,2.7,0A0.5,0.5,0,1,1,3.7,0","M-1,0H7.4"]},"legend":{"title":"cohort group:","orient":"none","legendX":-21,"legendY":305,"labelExpr":"'19' + datum.label"}}}}
    ]}
  ]},
 {"title":{"text":"(b) Coordination","font":"DejaVu Serif","fontSize":22.5,"fontWeight":"normal","color":"black","anchor":"middle","frame":"bounds","offset":17,"baseline":"alphabetic"},
  "bounds":"flush","spacing":9,
  "hconcat":[
   {"width":225,"height":264,"title":{"text":"male","font":"Liberation Sans","fontSize":12.5,"fontWeight":"normal","color":"black","offset":-10,"baseline":"bottom","anchor":"middle"},
    "data":{"name":"bm"},
    "encoding":{"x":{"field":"x","type":"quantitative","scale":{"domain":[23.95,55.95],"nice":false,"zero":false},"axis":{"values":[25,30,35,40,45,50,55],"grid":false,"title":"age","titleX":229.5,"titleY":30,"titleBaseline":"middle","titleAlign":"center","titleFontSize":12.5}}},
    "layer":[
     {"mark":{"type":"line","interpolate":"monotone","strokeWidth":1},"encoding":{"y":{"field":"y","type":"quantitative","scale":{"domain":[-0.822,0.025],"nice":false,"zero":false},"axis":{"orient":"left","values":[-0.8,-0.6,-0.4,-0.2,0],"title":"flex wage penalty controlling for coordination","grid":true,"labelAngle":-90,"labelAlign":"center","labelBaseline":"bottom","labelPadding":4,"labelExpr":"datum.value == 0 ? '0' : (datum.value < 0 ? '-' : '') + '.' + round(abs(datum.value) * 10)"}},"stroke":{"field":"c","type":"nominal","scale":{"domain":[45,55,65,75,85],"range":["#000000","#000000","#111111","#8a8a8a","#9a9a9a"]},"legend":null},"strokeDash":{"field":"c","type":"nominal","scale":{"domain":[45,55,65,75,85],"range":[[10,3.5,10,3.5,1,3.5],[1,0],[1,0],[1,0],[1,0]]},"legend":null}}},
     {"transform":[{"filter":"datum.c == 55"}],"mark":{"type":"point","shape":"triangle-up","size":22,"filled":false,"stroke":"black","strokeWidth":0.8,"opacity":1},"encoding":{"y":{"field":"y","type":"quantitative","scale":{"domain":[-0.822,0.025],"nice":false,"zero":false},"axis":null}}},
     {"transform":[{"filter":"datum.c == 75"}],"mark":{"type":"point","shape":"circle","size":16,"filled":false,"stroke":"#8a8a8a","strokeWidth":1,"opacity":1},"encoding":{"y":{"field":"y","type":"quantitative","scale":{"domain":[-0.822,0.025],"nice":false,"zero":false},"axis":null}}},
     {"transform":[{"filter":"false"}],"mark":{"type":"point","filled":false,"size":100,"strokeWidth":1,"opacity":1},"encoding":{"y":{"field":"y","type":"quantitative","scale":{"domain":[-0.822,0.025],"nice":false,"zero":false},"axis":{"orient":"right","labels":false,"ticks":false,"grid":false,"title":null,"domainColor":"#333333"}},"color":{"field":"c","type":"nominal","scale":{"domain":[45,55,65,75,85],"range":["#000000","#000000","#111111","#8a8a8a","#9a9a9a"]},"legend":{"title":"cohort group:","orient":"none","legendX":-21,"legendY":305,"labelExpr":"'19' + datum.label"}},"shape":{"field":"c","type":"nominal","scale":{"domain":[45,55,65,75,85],"range":["M-1,0H1.6M2.6,0H5.2M6.2,0H6.5","M-1,0H7.4M3.2,-0.65L3.8,0.45L2.6,0.45Z","M-1,0H7.4","M-1,0H7.4M3.7,0A0.5,0.5,0,1,1,2.7,0A0.5,0.5,0,1,1,3.7,0","M-1,0H7.4"]},"legend":{"title":"cohort group:","orient":"none","legendX":-21,"legendY":305,"labelExpr":"'19' + datum.label"}}}}
    ]},
   {"width":225,"height":264,"title":{"text":"female","font":"Liberation Sans","fontSize":12.5,"fontWeight":"normal","color":"black","offset":-10,"baseline":"bottom","anchor":"middle"},
    "data":{"name":"bf"},
    "encoding":{"x":{"field":"x","type":"quantitative","scale":{"domain":[23.95,55.95],"nice":false,"zero":false},"axis":{"values":[25,30,35,40,45,50,55],"grid":false,"title":null}}},
    "layer":[
     {"mark":{"type":"line","interpolate":"monotone","strokeWidth":1},"encoding":{"y":{"field":"y","type":"quantitative","scale":{"domain":[-0.822,0.025],"nice":false,"zero":false},"axis":{"orient":"left","values":[-0.8,-0.6,-0.4,-0.2,0],"title":null,"grid":true,"labels":false,"ticks":false,"domainColor":"#333333"}},"stroke":{"field":"c","type":"nominal","scale":{"domain":[45,55,65,75,85],"range":["#000000","#000000","#111111","#8a8a8a","#9a9a9a"]},"legend":null},"strokeDash":{"field":"c","type":"nominal","scale":{"domain":[45,55,65,75,85],"range":[[10,3.5,10,3.5,1,3.5],[1,0],[1,0],[1,0],[1,0]]},"legend":null}}},
     {"transform":[{"filter":"datum.c == 55"}],"mark":{"type":"point","shape":"triangle-up","size":22,"filled":false,"stroke":"black","strokeWidth":0.8,"opacity":1},"encoding":{"y":{"field":"y","type":"quantitative","scale":{"domain":[-0.822,0.025],"nice":false,"zero":false},"axis":null}}},
     {"transform":[{"filter":"datum.c == 75"}],"mark":{"type":"point","shape":"circle","size":16,"filled":false,"stroke":"#8a8a8a","strokeWidth":1,"opacity":1},"encoding":{"y":{"field":"y","type":"quantitative","scale":{"domain":[-0.822,0.025],"nice":false,"zero":false},"axis":null}}},
     {"transform":[{"filter":"false"}],"mark":{"type":"point","filled":false,"size":100,"strokeWidth":1,"opacity":1},"encoding":{"y":{"field":"y","type":"quantitative","scale":{"domain":[-0.822,0.025],"nice":false,"zero":false},"axis":{"orient":"right","labels":false,"ticks":false,"grid":false,"title":null,"domainColor":"#333333"}},"color":{"field":"c","type":"nominal","scale":{"domain":[45,55,65,75,85],"range":["#000000","#000000","#111111","#8a8a8a","#9a9a9a"]},"legend":{"title":"cohort group:","orient":"none","legendX":-21,"legendY":305,"labelExpr":"'19' + datum.label"}},"shape":{"field":"c","type":"nominal","scale":{"domain":[45,55,65,75,85],"range":["M-1,0H1.6M2.6,0H5.2M6.2,0H6.5","M-1,0H7.4M3.2,-0.65L3.8,0.45L2.6,0.45Z","M-1,0H7.4","M-1,0H7.4M3.7,0A0.5,0.5,0,1,1,2.7,0A0.5,0.5,0,1,1,3.7,0","M-1,0H7.4"]},"legend":{"title":"cohort group:","orient":"none","legendX":-21,"legendY":305,"labelExpr":"'19' + datum.label"}}}}
    ]}
  ]}
 ],"spacing":26,"resolve":{"scale":{"color":"independent","shape":"independent"},"legend":{"color":"independent","shape":"independent"}}},
{"hconcat":[
 {"title":{"text":"(c) Negotiation","font":"DejaVu Serif","fontSize":22.5,"fontWeight":"normal","color":"black","anchor":"middle","frame":"bounds","offset":17,"baseline":"alphabetic"},
  "bounds":"flush","spacing":9,
  "hconcat":[
   {"width":225,"height":264,"title":{"text":"male","font":"Liberation Sans","fontSize":12.5,"fontWeight":"normal","color":"black","offset":-10,"baseline":"bottom","anchor":"middle"},
    "data":{"name":"cm"},
    "encoding":{"x":{"field":"x","type":"quantitative","scale":{"domain":[23.95,55.95],"nice":false,"zero":false},"axis":{"values":[25,30,35,40,45,50,55],"grid":false,"title":"age","titleX":229.5,"titleY":30,"titleBaseline":"middle","titleAlign":"center","titleFontSize":12.5}}},
    "layer":[
     {"mark":{"type":"line","interpolate":"monotone","strokeWidth":1},"encoding":{"y":{"field":"y","type":"quantitative","scale":{"domain":[-0.621,0.082],"nice":false,"zero":false},"axis":{"orient":"left","values":[-0.6,-0.4,-0.2,0],"title":"flex wage penalty controlling for negotiation","grid":true,"labelAngle":-90,"labelAlign":"center","labelBaseline":"bottom","labelPadding":4,"labelExpr":"datum.value == 0 ? '0' : (datum.value < 0 ? '-' : '') + '.' + round(abs(datum.value) * 10)"}},"stroke":{"field":"c","type":"nominal","scale":{"domain":[45,55,65,75,85],"range":["#000000","#000000","#111111","#8a8a8a","#9a9a9a"]},"legend":null},"strokeDash":{"field":"c","type":"nominal","scale":{"domain":[45,55,65,75,85],"range":[[10,3.5,10,3.5,1,3.5],[1,0],[1,0],[1,0],[1,0]]},"legend":null}}},
     {"transform":[{"filter":"datum.c == 55"}],"mark":{"type":"point","shape":"triangle-up","size":22,"filled":false,"stroke":"black","strokeWidth":0.8,"opacity":1},"encoding":{"y":{"field":"y","type":"quantitative","scale":{"domain":[-0.621,0.082],"nice":false,"zero":false},"axis":null}}},
     {"transform":[{"filter":"datum.c == 75"}],"mark":{"type":"point","shape":"circle","size":16,"filled":false,"stroke":"#8a8a8a","strokeWidth":1,"opacity":1},"encoding":{"y":{"field":"y","type":"quantitative","scale":{"domain":[-0.621,0.082],"nice":false,"zero":false},"axis":null}}},
     {"transform":[{"filter":"false"}],"mark":{"type":"point","filled":false,"size":100,"strokeWidth":1,"opacity":1},"encoding":{"y":{"field":"y","type":"quantitative","scale":{"domain":[-0.621,0.082],"nice":false,"zero":false},"axis":{"orient":"right","labels":false,"ticks":false,"grid":false,"title":null,"domainColor":"#333333"}},"color":{"field":"c","type":"nominal","scale":{"domain":[45,55,65,75,85],"range":["#000000","#000000","#111111","#8a8a8a","#9a9a9a"]},"legend":{"title":"cohort group:","orient":"none","legendX":-21,"legendY":305,"labelExpr":"'19' + datum.label"}},"shape":{"field":"c","type":"nominal","scale":{"domain":[45,55,65,75,85],"range":["M-1,0H1.6M2.6,0H5.2M6.2,0H6.5","M-1,0H7.4M3.2,-0.65L3.8,0.45L2.6,0.45Z","M-1,0H7.4","M-1,0H7.4M3.7,0A0.5,0.5,0,1,1,2.7,0A0.5,0.5,0,1,1,3.7,0","M-1,0H7.4"]},"legend":{"title":"cohort group:","orient":"none","legendX":-21,"legendY":305,"labelExpr":"'19' + datum.label"}}}}
    ]},
   {"width":225,"height":264,"title":{"text":"female","font":"Liberation Sans","fontSize":12.5,"fontWeight":"normal","color":"black","offset":-10,"baseline":"bottom","anchor":"middle"},
    "data":{"name":"cf"},
    "encoding":{"x":{"field":"x","type":"quantitative","scale":{"domain":[23.95,55.95],"nice":false,"zero":false},"axis":{"values":[25,30,35,40,45,50,55],"grid":false,"title":null}}},
    "layer":[
     {"mark":{"type":"line","interpolate":"monotone","strokeWidth":1},"encoding":{"y":{"field":"y","type":"quantitative","scale":{"domain":[-0.621,0.082],"nice":false,"zero":false},"axis":{"orient":"left","values":[-0.6,-0.4,-0.2,0],"title":null,"grid":true,"labels":false,"ticks":false,"domainColor":"#333333"}},"stroke":{"field":"c","type":"nominal","scale":{"domain":[45,55,65,75,85],"range":["#000000","#000000","#111111","#8a8a8a","#9a9a9a"]},"legend":null},"strokeDash":{"field":"c","type":"nominal","scale":{"domain":[45,55,65,75,85],"range":[[10,3.5,10,3.5,1,3.5],[1,0],[1,0],[1,0],[1,0]]},"legend":null}}},
     {"transform":[{"filter":"datum.c == 55"}],"mark":{"type":"point","shape":"triangle-up","size":22,"filled":false,"stroke":"black","strokeWidth":0.8,"opacity":1},"encoding":{"y":{"field":"y","type":"quantitative","scale":{"domain":[-0.621,0.082],"nice":false,"zero":false},"axis":null}}},
     {"transform":[{"filter":"datum.c == 75"}],"mark":{"type":"point","shape":"circle","size":16,"filled":false,"stroke":"#8a8a8a","strokeWidth":1,"opacity":1},"encoding":{"y":{"field":"y","type":"quantitative","scale":{"domain":[-0.621,0.082],"nice":false,"zero":false},"axis":null}}},
     {"transform":[{"filter":"false"}],"mark":{"type":"point","filled":false,"size":100,"strokeWidth":1,"opacity":1},"encoding":{"y":{"field":"y","type":"quantitative","scale":{"domain":[-0.621,0.082],"nice":false,"zero":false},"axis":{"orient":"right","labels":false,"ticks":false,"grid":false,"title":null,"domainColor":"#333333"}},"color":{"field":"c","type":"nominal","scale":{"domain":[45,55,65,75,85],"range":["#000000","#000000","#111111","#8a8a8a","#9a9a9a"]},"legend":{"title":"cohort group:","orient":"none","legendX":-21,"legendY":305,"labelExpr":"'19' + datum.label"}},"shape":{"field":"c","type":"nominal","scale":{"domain":[45,55,65,75,85],"range":["M-1,0H1.6M2.6,0H5.2M6.2,0H6.5","M-1,0H7.4M3.2,-0.65L3.8,0.45L2.6,0.45Z","M-1,0H7.4","M-1,0H7.4M3.7,0A0.5,0.5,0,1,1,2.7,0A0.5,0.5,0,1,1,3.7,0","M-1,0H7.4"]},"legend":{"title":"cohort group:","orient":"none","legendX":-21,"legendY":305,"labelExpr":"'19' + datum.label"}}}}
    ]}
  ]},
 {"title":{"text":"(d) Persuasion","font":"DejaVu Serif","fontSize":22.5,"fontWeight":"normal","color":"black","anchor":"middle","frame":"bounds","offset":17,"baseline":"alphabetic"},
  "bounds":"flush","spacing":9,
  "hconcat":[
   {"width":225,"height":264,"title":{"text":"male","font":"Liberation Sans","fontSize":12.5,"fontWeight":"normal","color":"black","offset":-10,"baseline":"bottom","anchor":"middle"},
    "data":{"name":"dm"},
    "encoding":{"x":{"field":"x","type":"quantitative","scale":{"domain":[23.95,55.95],"nice":false,"zero":false},"axis":{"values":[25,30,35,40,45,50,55],"grid":false,"title":"age","titleX":229.5,"titleY":30,"titleBaseline":"middle","titleAlign":"center","titleFontSize":12.5}}},
    "layer":[
     {"mark":{"type":"line","interpolate":"monotone","strokeWidth":1},"encoding":{"y":{"field":"y","type":"quantitative","scale":{"domain":[-0.627,0.223],"nice":false,"zero":false},"axis":{"orient":"left","values":[-0.6,-0.4,-0.2,0,0.2],"title":"flex wage penalty controlling for persuasion","grid":true,"labelAngle":-90,"labelAlign":"center","labelBaseline":"bottom","labelPadding":4,"labelExpr":"datum.value == 0 ? '0' : (datum.value < 0 ? '-' : '') + '.' + round(abs(datum.value) * 10)"}},"stroke":{"field":"c","type":"nominal","scale":{"domain":[45,55,65,75,85],"range":["#000000","#000000","#111111","#8a8a8a","#9a9a9a"]},"legend":null},"strokeDash":{"field":"c","type":"nominal","scale":{"domain":[45,55,65,75,85],"range":[[10,3.5,10,3.5,1,3.5],[1,0],[1,0],[1,0],[1,0]]},"legend":null}}},
     {"transform":[{"filter":"datum.c == 55"}],"mark":{"type":"point","shape":"triangle-up","size":22,"filled":false,"stroke":"black","strokeWidth":0.8,"opacity":1},"encoding":{"y":{"field":"y","type":"quantitative","scale":{"domain":[-0.627,0.223],"nice":false,"zero":false},"axis":null}}},
     {"transform":[{"filter":"datum.c == 75"}],"mark":{"type":"point","shape":"circle","size":16,"filled":false,"stroke":"#8a8a8a","strokeWidth":1,"opacity":1},"encoding":{"y":{"field":"y","type":"quantitative","scale":{"domain":[-0.627,0.223],"nice":false,"zero":false},"axis":null}}},
     {"transform":[{"filter":"false"}],"mark":{"type":"point","filled":false,"size":100,"strokeWidth":1,"opacity":1},"encoding":{"y":{"field":"y","type":"quantitative","scale":{"domain":[-0.627,0.223],"nice":false,"zero":false},"axis":{"orient":"right","labels":false,"ticks":false,"grid":false,"title":null,"domainColor":"#333333"}},"color":{"field":"c","type":"nominal","scale":{"domain":[45,55,65,75,85],"range":["#000000","#000000","#111111","#8a8a8a","#9a9a9a"]},"legend":{"title":"cohort group:","orient":"none","legendX":-21,"legendY":305,"labelExpr":"'19' + datum.label"}},"shape":{"field":"c","type":"nominal","scale":{"domain":[45,55,65,75,85],"range":["M-1,0H1.6M2.6,0H5.2M6.2,0H6.5","M-1,0H7.4M3.2,-0.65L3.8,0.45L2.6,0.45Z","M-1,0H7.4","M-1,0H7.4M3.7,0A0.5,0.5,0,1,1,2.7,0A0.5,0.5,0,1,1,3.7,0","M-1,0H7.4"]},"legend":{"title":"cohort group:","orient":"none","legendX":-21,"legendY":305,"labelExpr":"'19' + datum.label"}}}}
    ]},
   {"width":225,"height":264,"title":{"text":"female","font":"Liberation Sans","fontSize":12.5,"fontWeight":"normal","color":"black","offset":-10,"baseline":"bottom","anchor":"middle"},
    "data":{"name":"df"},
    "encoding":{"x":{"field":"x","type":"quantitative","scale":{"domain":[23.95,55.95],"nice":false,"zero":false},"axis":{"values":[25,30,35,40,45,50,55],"grid":false,"title":null}}},
    "layer":[
     {"mark":{"type":"line","interpolate":"monotone","strokeWidth":1},"encoding":{"y":{"field":"y","type":"quantitative","scale":{"domain":[-0.627,0.223],"nice":false,"zero":false},"axis":{"orient":"left","values":[-0.6,-0.4,-0.2,0,0.2],"title":null,"grid":true,"labels":false,"ticks":false,"domainColor":"#333333"}},"stroke":{"field":"c","type":"nominal","scale":{"domain":[45,55,65,75,85],"range":["#000000","#000000","#111111","#8a8a8a","#9a9a9a"]},"legend":null},"strokeDash":{"field":"c","type":"nominal","scale":{"domain":[45,55,65,75,85],"range":[[10,3.5,10,3.5,1,3.5],[1,0],[1,0],[1,0],[1,0]]},"legend":null}}},
     {"transform":[{"filter":"datum.c == 55"}],"mark":{"type":"point","shape":"triangle-up","size":22,"filled":false,"stroke":"black","strokeWidth":0.8,"opacity":1},"encoding":{"y":{"field":"y","type":"quantitative","scale":{"domain":[-0.627,0.223],"nice":false,"zero":false},"axis":null}}},
     {"transform":[{"filter":"datum.c == 75"}],"mark":{"type":"point","shape":"circle","size":16,"filled":false,"stroke":"#8a8a8a","strokeWidth":1,"opacity":1},"encoding":{"y":{"field":"y","type":"quantitative","scale":{"domain":[-0.627,0.223],"nice":false,"zero":false},"axis":null}}},
     {"transform":[{"filter":"false"}],"mark":{"type":"point","filled":false,"size":100,"strokeWidth":1,"opacity":1},"encoding":{"y":{"field":"y","type":"quantitative","scale":{"domain":[-0.627,0.223],"nice":false,"zero":false},"axis":{"orient":"right","labels":false,"ticks":false,"grid":false,"title":null,"domainColor":"#333333"}},"color":{"field":"c","type":"nominal","scale":{"domain":[45,55,65,75,85],"range":["#000000","#000000","#111111","#8a8a8a","#9a9a9a"]},"legend":{"title":"cohort group:","orient":"none","legendX":-21,"legendY":305,"labelExpr":"'19' + datum.label"}},"shape":{"field":"c","type":"nominal","scale":{"domain":[45,55,65,75,85],"range":["M-1,0H1.6M2.6,0H5.2M6.2,0H6.5","M-1,0H7.4M3.2,-0.65L3.8,0.45L2.6,0.45Z","M-1,0H7.4","M-1,0H7.4M3.7,0A0.5,0.5,0,1,1,2.7,0A0.5,0.5,0,1,1,3.7,0","M-1,0H7.4"]},"legend":{"title":"cohort group:","orient":"none","legendX":-21,"legendY":305,"labelExpr":"'19' + datum.label"}}}}
    ]}
  ]}
 ],"spacing":26,"resolve":{"scale":{"color":"independent","shape":"independent"},"legend":{"color":"independent","shape":"independent"}}},
 {"title":{"text":"(e) Social perceptiveness","font":"DejaVu Serif","fontSize":22.5,"fontWeight":"normal","color":"black","anchor":"middle","frame":"bounds","offset":10,"baseline":"alphabetic"},
  "bounds":"flush","spacing":9,
  "hconcat":[
   {"width":225,"height":264,"title":{"text":"male","font":"Liberation Sans","fontSize":12.5,"fontWeight":"normal","color":"black","offset":-34,"baseline":"bottom","anchor":"middle"},
    "data":{"name":"em"},
    "encoding":{"x":{"field":"x","type":"quantitative","scale":{"domain":[23.95,55.95],"nice":false,"zero":false},"axis":{"values":[25,30,35,40,45,50,55],"grid":false,"title":"age","titleX":229.5,"titleY":30,"titleBaseline":"middle","titleAlign":"center","titleFontSize":12.5}}},
    "layer":[
     {"mark":{"type":"line","interpolate":"monotone","strokeWidth":1},"encoding":{"y":{"field":"y","type":"quantitative","scale":{"domain":[-0.666,0.085],"nice":false,"zero":false},"axis":{"orient":"left","values":[-0.6,-0.4,-0.2,0],"title":"flex wage penalty controlling for social perceptiveness","grid":true,"labelAngle":-90,"labelAlign":"center","labelBaseline":"bottom","labelPadding":4,"labelExpr":"datum.value == 0 ? '0' : (datum.value < 0 ? '-' : '') + '.' + round(abs(datum.value) * 10)"}},"stroke":{"field":"c","type":"nominal","scale":{"domain":[45,55,65,75,85],"range":["#000000","#000000","#111111","#8a8a8a","#9a9a9a"]},"legend":null},"strokeDash":{"field":"c","type":"nominal","scale":{"domain":[45,55,65,75,85],"range":[[10,3.5,10,3.5,1,3.5],[1,0],[1,0],[1,0],[1,0]]},"legend":null}}},
     {"transform":[{"filter":"datum.c == 55"}],"mark":{"type":"point","shape":"triangle-up","size":22,"filled":false,"stroke":"black","strokeWidth":0.8,"opacity":1},"encoding":{"y":{"field":"y","type":"quantitative","scale":{"domain":[-0.666,0.085],"nice":false,"zero":false},"axis":null}}},
     {"transform":[{"filter":"datum.c == 75"}],"mark":{"type":"point","shape":"circle","size":16,"filled":false,"stroke":"#8a8a8a","strokeWidth":1,"opacity":1},"encoding":{"y":{"field":"y","type":"quantitative","scale":{"domain":[-0.666,0.085],"nice":false,"zero":false},"axis":null}}},
     {"transform":[{"filter":"false"}],"mark":{"type":"point","filled":false,"size":100,"strokeWidth":1,"opacity":1},"encoding":{"y":{"field":"y","type":"quantitative","scale":{"domain":[-0.666,0.085],"nice":false,"zero":false},"axis":{"orient":"right","labels":false,"ticks":false,"grid":false,"title":null,"domainColor":"#333333"}},"color":{"field":"c","type":"nominal","scale":{"domain":[45,55,65,75,85],"range":["#000000","#000000","#111111","#8a8a8a","#9a9a9a"]},"legend":{"title":"cohort group:","orient":"none","legendX":-21,"legendY":305,"labelExpr":"'19' + datum.label"}},"shape":{"field":"c","type":"nominal","scale":{"domain":[45,55,65,75,85],"range":["M-1,0H1.6M2.6,0H5.2M6.2,0H6.5","M-1,0H7.4M3.2,-0.65L3.8,0.45L2.6,0.45Z","M-1,0H7.4","M-1,0H7.4M3.7,0A0.5,0.5,0,1,1,2.7,0A0.5,0.5,0,1,1,3.7,0","M-1,0H7.4"]},"legend":{"title":"cohort group:","orient":"none","legendX":-21,"legendY":305,"labelExpr":"'19' + datum.label"}}}}
    ]},
   {"width":225,"height":264,"title":{"text":"female","font":"Liberation Sans","fontSize":12.5,"fontWeight":"normal","color":"black","offset":-10,"baseline":"bottom","anchor":"middle"},
    "data":{"name":"ef"},
    "encoding":{"x":{"field":"x","type":"quantitative","scale":{"domain":[23.95,55.95],"nice":false,"zero":false},"axis":{"values":[25,30,35,40,45,50,55],"grid":false,"title":null}}},
    "layer":[
     {"mark":{"type":"line","interpolate":"monotone","strokeWidth":1},"encoding":{"y":{"field":"y","type":"quantitative","scale":{"domain":[-0.666,0.085],"nice":false,"zero":false},"axis":{"orient":"left","values":[-0.6,-0.4,-0.2,0],"title":null,"grid":true,"labels":false,"ticks":false,"domainColor":"#333333"}},"stroke":{"field":"c","type":"nominal","scale":{"domain":[45,55,65,75,85],"range":["#000000","#000000","#111111","#8a8a8a","#9a9a9a"]},"legend":null},"strokeDash":{"field":"c","type":"nominal","scale":{"domain":[45,55,65,75,85],"range":[[10,3.5,10,3.5,1,3.5],[1,0],[1,0],[1,0],[1,0]]},"legend":null}}},
     {"transform":[{"filter":"datum.c == 55"}],"mark":{"type":"point","shape":"triangle-up","size":22,"filled":false,"stroke":"black","strokeWidth":0.8,"opacity":1},"encoding":{"y":{"field":"y","type":"quantitative","scale":{"domain":[-0.666,0.085],"nice":false,"zero":false},"axis":null}}},
     {"transform":[{"filter":"datum.c == 75"}],"mark":{"type":"point","shape":"circle","size":16,"filled":false,"stroke":"#8a8a8a","strokeWidth":1,"opacity":1},"encoding":{"y":{"field":"y","type":"quantitative","scale":{"domain":[-0.666,0.085],"nice":false,"zero":false},"axis":null}}},
     {"transform":[{"filter":"false"}],"mark":{"type":"point","filled":false,"size":100,"strokeWidth":1,"opacity":1},"encoding":{"y":{"field":"y","type":"quantitative","scale":{"domain":[-0.666,0.085],"nice":false,"zero":false},"axis":{"orient":"right","labels":false,"ticks":false,"grid":false,"title":null,"domainColor":"#333333"}},"color":{"field":"c","type":"nominal","scale":{"domain":[45,55,65,75,85],"range":["#000000","#000000","#111111","#8a8a8a","#9a9a9a"]},"legend":{"title":"cohort group:","orient":"none","legendX":-21,"legendY":305,"labelExpr":"'19' + datum.label"}},"shape":{"field":"c","type":"nominal","scale":{"domain":[45,55,65,75,85],"range":["M-1,0H1.6M2.6,0H5.2M6.2,0H6.5","M-1,0H7.4M3.2,-0.65L3.8,0.45L2.6,0.45Z","M-1,0H7.4","M-1,0H7.4M3.7,0A0.5,0.5,0,1,1,2.7,0A0.5,0.5,0,1,1,3.7,0","M-1,0H7.4"]},"legend":{"title":"cohort group:","orient":"none","legendX":-21,"legendY":305,"labelExpr":"'19' + datum.label"}}}}
    ]}
  ]}
],
"spacing":63,"center":true,
"resolve":{"scale":{"color":"independent","shape":"independent"},"legend":{"color":"independent","shape":"independent"}}
}
